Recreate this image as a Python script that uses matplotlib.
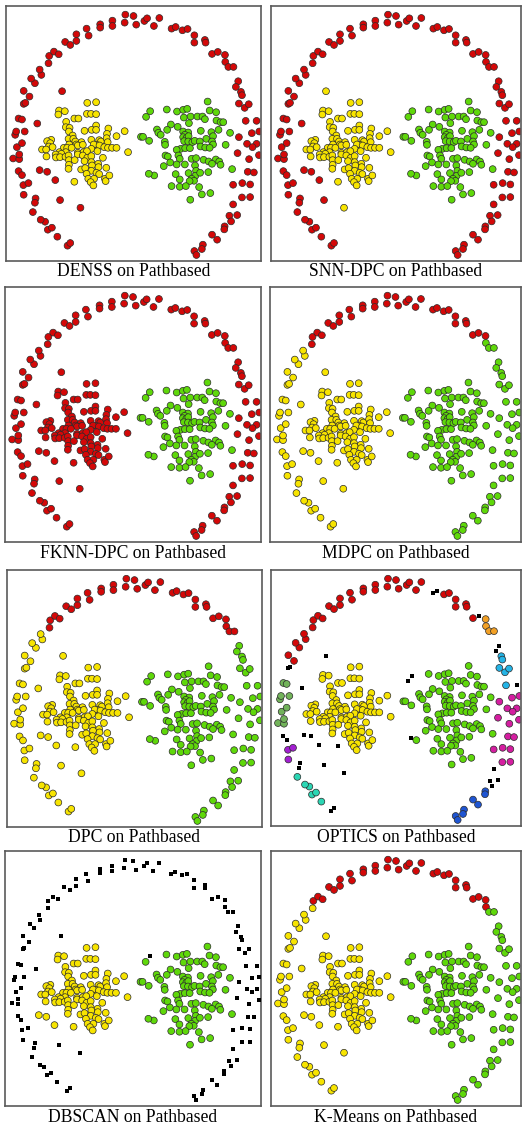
import matplotlib
matplotlib.use("Agg")
import matplotlib.pyplot as plt
import numpy as np

# ---------------- data (Pathbased, coordinates; y grows downward) -------------
ring_x = [184,192,154,126,138,118,105,82,90,88,
          55,54,69,40,50,24,42,42,35,50,
          30,33,58,40,50,55,60,72,55,88,
          77,107,102,128,130,144,158,177,192,210,
          210,240,246,280,280,316,316,354,352,378,
          386,410,418,438,454,490,502,522,537,557,
          557,588,590,609,626,647,648,657,672,686,
          679,694,697,688,705,717,708,740,748,726,
          688,712,740,728,684,718,747,714,732,671,
          698,721,697,721,671,660,683,665,646,645,
          609,624,582,579,557,563]
ring_y = [730,722,703,682,676,658,652,629,588,601,
          577,548,542,506,518,468,470,456,434,422,
          397,387,387,348,351,304,301,282,265,242,
          228,217,201,182,160,147,155,118,127,115,
          95,78,99,65,75,54,70,36,60,40,
          66,55,47,70,46,78,73,83,79,98,
          120,112,120,154,148,157,178,193,193,236,
          253,268,278,303,316,305,355,355,387,392,
          404,424,424,434,452,470,458,508,510,547,
          542,546,585,584,606,640,638,657,672,681,
          697,712,727,740,746,758]

left_x = [242,268,159,176,157,241,253,268,204,216,180,179,190,268,255,268,304,234,188,352,
          300,328,199,187,201,136,124,133,254,277,282,299,302,207,225,189,210,214,229,270,
          261,278,129,140,109,121,173,183,196,292,303,315,328,254,160,179,149,166,214,231,
          241,272,362,122,150,162,178,187,214,229,242,254,288,188,205,234,254,274,188,187,
          256,224,236,254,275,298,269,277,240,245,262,294,252,296,260,307]
left_y = [301,299,324,326,336,334,334,335,348,348,358,374,376,369,382,382,378,385,387,386,
          394,401,399,409,409,412,416,422,412,413,417,407,419,417,419,426,426,429,427,427,
          426,429,432,434,441,441,436,436,436,434,436,436,436,439,449,449,456,454,451,449,
          446,446,449,462,465,464,463,459,456,459,466,461,466,473,473,476,479,484,487,499,
          489,501,497,505,494,496,511,515,514,529,529,529,539,536,549,519]

right_x = [596,476,506,524,536,602,621,526,546,566,581,588,622,634,642,541,488,508,477,447,
           451,458,576,628,607,524,539,529,400,406,424,524,534,540,662,612,592,609,527,539,
           551,558,573,470,471,649,612,575,589,602,517,530,544,505,472,479,510,514,549,562,
           584,599,620,630,634,486,467,505,529,559,609,439,502,540,562,560,574,598,549,556,
           543,514,490,514,532,571,579,604,545,668]
right_y = [297,321,327,322,319,324,329,345,342,342,342,350,354,359,359,362,366,373,382,381,
           391,397,385,382,389,387,390,397,403,403,415,404,406,401,391,401,409,417,416,417,
           419,415,417,418,427,427,426,432,435,436,439,437,437,442,459,462,459,469,469,467,
           472,477,471,477,487,480,491,486,486,489,484,519,515,512,505,520,511,509,529,535,
           536,531,551,553,551,554,576,572,592,500]

stray_x = [168,95,102,124,148,162,222,204,415,427,423]
stray_y = [266,363,503,508,533,593,616,538,343,326,514]

titles = ["DENSS on Pathbased", "SNN-DPC on Pathbased", "FKNN-DPC on Pathbased", "MDPC on Pathbased",
          "DPC on Pathbased", "OPTICS on Pathbased", "DBSCAN on Pathbased", "K-Means on Pathbased"]

# ring labels as runs (count, label) along the ring, bottom-left -> top -> bottom-right
ring_runs = [
    [(106, 'r')],
    [(106, 'r')],
    [(106, 'r')],
    [(33, 'y'), (33, 'r'), (40, 'g')],
    [(33, 'y'), (36, 'r'), (37, 'g')],
    [(2, 'k'), (6, 't'), (2, 'k'), (3, 'p'), (2, 'k'), (10, 'v'), (2, 'k'), (28, 'r'), (2, 'k'),
     (7, 'r'), (1, 'k'), (4, 'o'), (2, 'k'), (6, 'c'), (1, 'k'), (16, 'm'), (4, 'k'), (8, 'b')],
    [(106, 'k')],
    [(34, 'y'), (33, 'r'), (39, 'g')],
]
left_labels = ['y', 'y', 'r', 'y', 'y', 'y', 'y', 'y']
right_labels = ['g'] * 8
stray_labels = ["rrrrrrryggg", "yrrrrryyggg", "rrrrrrrrggg", "yyyyyyyyggg",
                "yyyyyyyyggg", "kkkkkkkkkkk", "kkyyykkygkg", "yyyyyyyyggg"]

colors = {'r': '#d40808', 'y': '#f7e400', 'g': '#5fd80a', 'k': '#000000', 'o': '#f2a024',
          'c': '#24b4e6', 'm': '#d41ea0', 'b': '#1f55d2', 'v': '#72b35a', 'p': '#a21fd0',
          't': '#2bd6b4'}

# panel frames in pixels (left, top, right, bottom)
frames = [(6, 6, 261, 261), (271, 6, 521, 261),
          (5, 287, 261, 542), (270, 287, 521, 542),
          (7, 570, 262, 827), (271, 570, 521, 826),
          (5, 851, 261, 1106), (271, 851, 521, 1106)]
cap_y = [272, 272, 553, 553, 838, 838, 1118, 1118]

W, H = 522, 1130
fig = plt.figure(figsize=(W / 100, H / 100), dpi=100)
fig.patch.set_facecolor('white')

for i in range(8):
    l, t, r, b = frames[i]
    ax = fig.add_axes([l / W, 1 - b / H, (r - l) / W, (b - t) / H])
    labs = []
    for n, c in ring_runs[i]:
        labs += [c] * n
    xs = list(ring_x) + list(left_x) + list(right_x) + list(stray_x)
    ys = list(ring_y) + list(left_y) + list(right_y) + list(stray_y)
    labs = labs + [left_labels[i]] * len(left_x) + [right_labels[i]] * len(right_x) + list(stray_labels[i])
    xs = np.array(xs); ys = np.array(ys); labs = np.array(labs)
    circ = labs != 'k'
    ax.scatter(xs[circ], ys[circ], s=24, c=[colors[c] for c in labs[circ]],
               edgecolors='#2a2a2a', linewidths=0.5, zorder=2)
    sq = labs == 'k'
    if sq.any():
        ax.scatter(xs[sq], ys[sq], s=9, marker='s', c='black', linewidths=0, zorder=3)
    ax.set_xlim(3, 753)
    ax.set_ylim(776, 10)
    ax.set_xticks([]); ax.set_yticks([])
    for sp in ax.spines.values():
        sp.set_color('#5a5a5a')
        sp.set_linewidth(1.2)
    fig.text(((l + r) / 2) / W, 1 - cap_y[i] / H, titles[i], ha='center', va='center',
             fontsize=12.7, family=['Liberation Serif', 'DejaVu Serif'])

fig.savefig('out.png', dpi=100, facecolor='white')
